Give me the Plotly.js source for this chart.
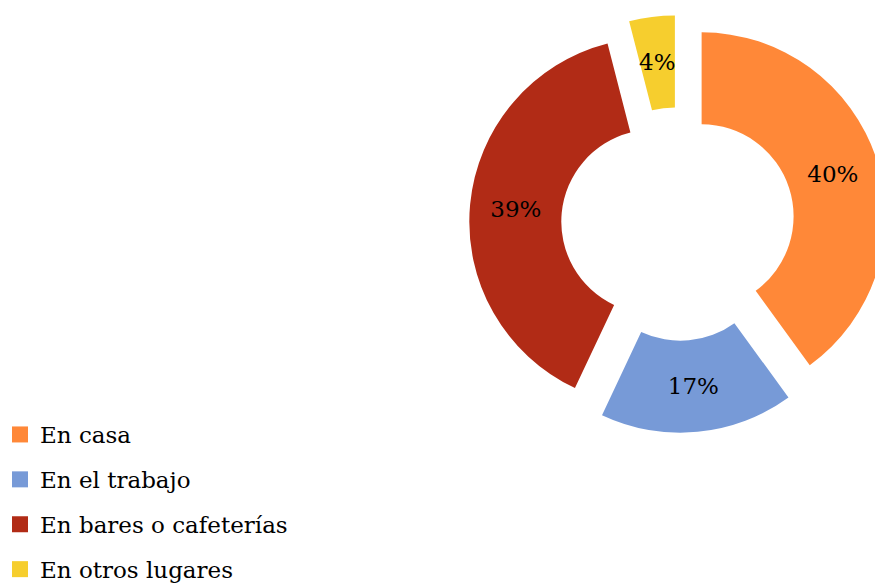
<!DOCTYPE html>
<html>
<head>
<meta charset="utf-8">
<script src="https://cdn.plot.ly/plotly-3.0.1.min.js"></script>
<style>
html,body{margin:0;padding:0;overflow:hidden;background:#fff;}
#chart{width:900px;height:591px;}
</style>
</head>
<body>
<div id="chart"></div>
<script>
const categories = ["En casa", "En el trabajo", "En bares o cafeterías", "En otros lugares"];
const values = [40, 17, 39, 4];
const colors = ["#FF8838", "#779AD7", "#B12B16", "#F6CE2E"];

const FONT = "DejaVu Serif";
const W = 900, H = 591;
const HOLE = 0.5, PULL = 0.135;
const domX = [469 / W, 887 / W];
const domY = [(H - 432.8) / H, (H - 15.2) / H];

// small slices whose label Plotly would shrink: label placed as annotation
const total = values.reduce((a, b) => a + b, 0);
const smallIdx = values.map((v, i) => (v / total < 0.06 ? i : -1)).filter(i => i >= 0);

const pie = {
  type: "pie",
  labels: categories,
  values: values,
  sort: false,
  direction: "clockwise",
  rotation: 0,
  hole: HOLE,
  pull: PULL,
  marker: {colors: colors, line: {width: 0}},
  textinfo: "percent",
  textposition: values.map((v, i) => (smallIdx.includes(i) ? "none" : "inside")),
  insidetextorientation: "horizontal",
  textfont: {family: FONT, size: 23, color: "#000"},
  showlegend: false,
  domain: {x: domX, y: domY}
};

// geometry of the pie in pixels (same rule Plotly uses)
const boxW = W * (domX[1] - domX[0]), boxH = H * (domY[1] - domY[0]);
const R = Math.min(boxW, boxH) / (2 + 2 * PULL);
const cx = W * (domX[0] + domX[1]) / 2;
const cy = H * (1 - domY[0]) - boxH / 2;

const annotations = [];
let cum = 0;
values.forEach((v, i) => {
  const mid = (cum + v / 2) / total * 2 * Math.PI;
  cum += v;
  if (!smallIdx.includes(i)) return;
  const rr = R * PULL + R * (1 + HOLE) / 2;
  const px = cx + rr * Math.sin(mid);
  const py = cy - rr * Math.cos(mid);
  annotations.push({
    xref: "paper", yref: "paper",
    x: px / W, y: 1 - py / H,
    xanchor: "center", yanchor: "middle",
    text: Math.round(v / total * 100) + "%",
    showarrow: false,
    font: {family: FONT, size: 23, color: "#000"}
  });
});

const legendTraces = categories.map((c, i) => ({
  type: "scatter",
  mode: "markers",
  x: [null], y: [null],
  name: c,
  legendgroup: "g" + i,
  marker: {symbol: "square", size: 16, color: colors[i]},
  showlegend: true,
  hoverinfo: "skip"
}));

const layout = {
  width: W, height: H,
  margin: {l: 0, r: 0, t: 0, b: 0},
  paper_bgcolor: "#fff",
  plot_bgcolor: "rgba(0,0,0,0)",
  xaxis: {visible: false},
  yaxis: {visible: false},
  showlegend: true,
  annotations: annotations,
  legend: {
    x: 0, y: 0, xanchor: "left", yanchor: "bottom",
    font: {family: FONT, size: 23, color: "#000"},
    tracegroupgap: 12,
    bgcolor: "rgba(0,0,0,0)",
    borderwidth: 0
  }
};

Plotly.newPlot("chart", [pie].concat(legendTraces), layout, {displayModeBar: false, staticPlot: true});
</script>
</body>
</html>
